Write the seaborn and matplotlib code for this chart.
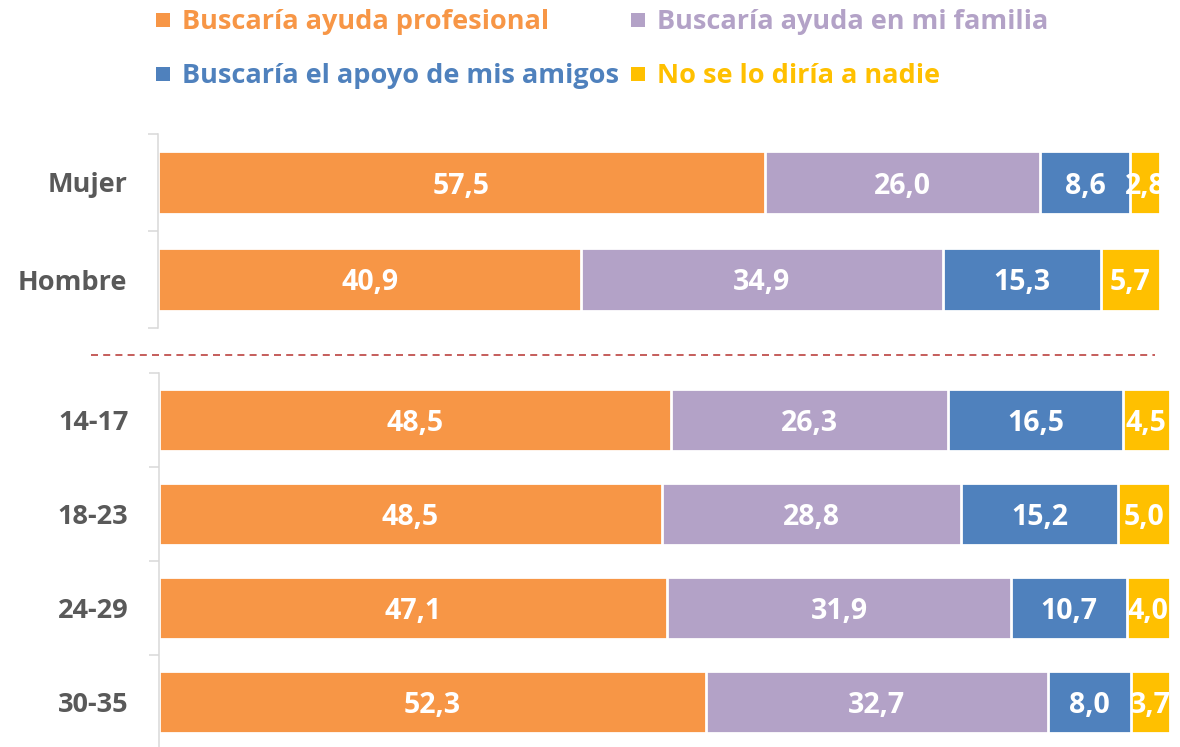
import numpy as np
import pandas as pd
import matplotlib
matplotlib.use("Agg")
import matplotlib.pyplot as plt
from matplotlib.patches import Rectangle
from matplotlib.lines import Line2D
import seaborn as sns

# Survey answers: who would you turn to (percent of respondents)
series_names = [
    "Buscaría ayuda profesional",
    "Buscaría ayuda en mi familia",
    "Buscaría el apoyo de mis amigos",
    "No se lo diría a nadie",
]
series_colors = ["#F79646", "#B3A2C7", "#4F81BD", "#FFC000"]

sex_labels = ["Mujer", "Hombre"]
sex_profesional = [57.5, 40.9]
sex_familia = [26.0, 34.9]
sex_amigos = [8.6, 15.3]
sex_nadie = [2.8, 5.7]

age_labels = ["14-17", "18-23", "24-29", "30-35"]
age_profesional = [48.5, 48.5, 47.1, 52.3]
age_familia = [26.3, 28.8, 31.9, 32.7]
age_amigos = [16.5, 15.2, 10.7, 8.0]
age_nadie = [4.5, 5.0, 4.0, 3.7]

FONT = "Open Sans"
FAMILY = [FONT, "DejaVu Sans"]
W, H = 1180, 747

sns.set_theme(style="white")
plt.rcParams["font.family"] = FAMILY

fig = plt.figure(figsize=(W / 100, H / 100), dpi=100)


def px_axes(x0, x1, y0, y1):
    """Axes placed by pixel edges (y measured from the top)."""
    return fig.add_axes([x0 / W, 1 - y1 / H, (x1 - x0) / W, (y1 - y0) / H])


def stacked_100(ax, labels, columns):
    df = pd.DataFrame(dict(zip(series_names, columns)), index=labels)
    share = df.div(df.sum(axis=1), axis=0) * 100
    cum = share.cumsum(axis=1)
    # widest (cumulative) bars first, so each shorter one sits on top
    for name, color in reversed(list(zip(series_names, series_colors))):
        sns.barplot(x=cum[name].values, y=labels, orient="h", color=color,
                    saturation=1, width=0.65, edgecolor="white",
                    linewidth=2, ax=ax)
    for name in series_names:
        centers = cum[name] - share[name] / 2
        for i, lab in enumerate(labels):
            ax.text(centers[lab], i, f"{df.loc[lab, name]:.1f}".replace(".", ","),
                    ha="center", va="center_baseline", color="white",
                    fontsize=20.5, fontweight="bold", family=FAMILY,
                    clip_on=True, zorder=5)
    n = len(labels)
    ax.set_xlim(0, 100)
    ax.set_ylim(n - 0.5, -0.5)
    ax.set_xlabel("")
    ax.set_ylabel("")
    ax.set_xticks([])
    for s in ("top", "right", "bottom"):
        ax.spines[s].set_visible(False)
    ax.spines["left"].set_color("#D9D9D9")
    ax.spines["left"].set_linewidth(1.1)
    ax.set_yticks(np.arange(-0.5, n, 1.0))
    ax.set_yticklabels([""] * (n + 1))
    ax.tick_params(axis="y", which="major", length=7.2, width=1.1,
                   color="#D9D9D9", left=True)
    ax.set_yticks(np.arange(n), minor=True)
    ax.set_yticklabels(labels, minor=True)
    ax.tick_params(axis="y", which="minor", length=0, pad=22,
                   labelsize=19.5, labelcolor="#595959")
    for t in ax.get_yticklabels(minor=True):
        t.set_fontweight("bold")
    ax.set_facecolor("none")


ax_sex = px_axes(158, 1160, 134, 328)
stacked_100(ax_sex, sex_labels,
            [sex_profesional, sex_familia, sex_amigos, sex_nadie])

ax_age = px_axes(159, 1170, 373, 749)
stacked_100(ax_age, age_labels,
            [age_profesional, age_familia, age_amigos, age_nadie])

# separator between the two groups
fig.add_artist(Line2D([91 / W, 1155 / W], [1 - 355 / H] * 2,
                      color="#C0504D", lw=1.44, ls=(0, (3.5, 2.6)),
                      alpha=0.9))

# legend with coloured labels
legend_pos = [(156, 13, 182, 29), (631, 13, 657, 29),
              (156, 67, 182, 83), (631, 67, 657, 83)]
for (sx, sy, tx, ty), name, color in zip(legend_pos, series_names, series_colors):
    fig.add_artist(Rectangle((sx / W, 1 - (sy + 14) / H), 14 / W, 14 / H,
                             transform=fig.transFigure, color=color, lw=0))
    fig.text(tx / W, 1 - ty / H, name, color=color, fontsize=19.5,
             fontweight="bold", ha="left", va="baseline", family=FAMILY)

fig.savefig("out.png", dpi=100)
